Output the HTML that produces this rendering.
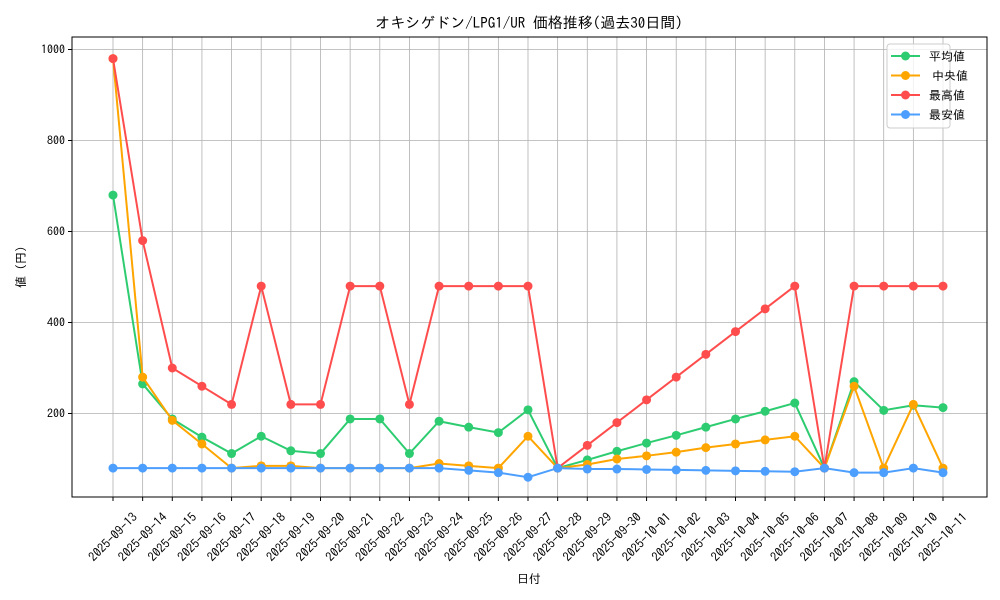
<!DOCTYPE html><html><head><meta charset="utf-8"><style>body{margin:0;background:#fff}svg{display:block}text{font-family:"IPAGothic","Liberation Sans","Noto Sans CJK JP",sans-serif;fill:#000}</style></head><body>
<svg id="s" width="1000" height="600" xmlns="http://www.w3.org/2000/svg"></svg>
<script>
const s=document.getElementById('s');let h='';
const L=72,R=987,T=37,B=497;
const X=i=>113+i*(830/28), Y=v=>504.5-v*0.455;
const dates=[];let d=new Date(Date.UTC(2025,8,13));for(let i=0;i<29;i++){dates.push(d.toISOString().slice(0,10));d=new Date(d.getTime()+864e5);}
h+=`<rect x="${L}" y="${T}" width="${R-L}" height="${B-T}" fill="#fff"/>`;
for(let i=0;i<29;i++){const x=X(i);h+=`<line x1="${x}" y1="${T}" x2="${x}" y2="${B}" stroke="#b0b0b0" stroke-width="0.8"/><line x1="${x}" y1="${B}" x2="${x}" y2="${B+4}" stroke="#000"/><text transform="translate(${x+3},540) rotate(-45)" text-anchor="middle" font-size="12.5">${dates[i]}</text>`;}
for(let v=200;v<=1000;v+=200){const y=Y(v);h+=`<line x1="${L}" y1="${y}" x2="${R}" y2="${y}" stroke="#b0b0b0" stroke-width="0.8"/><line x1="${L-4}" y1="${y}" x2="${L}" y2="${y}" stroke="#000"/><text x="${L-7}" y="${y+4}" text-anchor="end" font-size="12">${v}</text>`;}
const S=[
['#2ecc71',[680,265,188,148,112,150,118,112,188,188,112,183,170,158,208,80,98,117,135,152,170,188,205,223,80,270,207,218,213]],
['#ffa500',[980,280,185,133,80,85,85,80,80,80,80,90,85,80,150,80,88,100,107,115,125,133,142,150,80,260,80,220,80]],
['#ff4d4d',[980,580,300,260,220,480,220,220,480,480,220,480,480,480,480,80,130,180,230,280,330,380,430,480,80,480,480,480,480]],
['#4d9fff',[80,80,80,80,80,80,80,80,80,80,80,80,75,70,60,80,78,78,77,76,75,74,73,72,80,70,70,80,70]]];
for(const [c,a] of S){h+=`<polyline fill="none" stroke="${c}" stroke-width="2" points="${a.map((v,i)=>X(i)+','+Y(v)).join(' ')}"/>`;a.forEach((v,i)=>h+=`<circle cx="${X(i)}" cy="${Y(v)}" r="4.5" fill="${c}"/>`);}
h+=`<rect x="${L}" y="${T}" width="${R-L}" height="${B-T}" fill="none" stroke="#000" stroke-width="1"/>`;
h+=`<rect x="887" y="44" width="63" height="84" rx="3" fill="#fff" fill-opacity="0.8" stroke="#ccc"/>`;
const n=['平均値','中央値','最高値','最安値'];
S.forEach(([c],i)=>{const y=56+i*19.5;h+=`<line x1="891" y1="${y}" x2="920" y2="${y}" stroke="${c}" stroke-width="2"/><circle cx="905.5" cy="${y}" r="4.5" fill="${c}"/><text x="${i==1?932:929}" y="${y+4.5}" font-size="12">${n[i]}</text>`;});
h+=`<text x="529" y="28" text-anchor="middle" font-size="15">オキシゲドン/LPG1/UR 価格推移(過去30日間)</text>`;
h+=`<text x="529" y="583" text-anchor="middle" font-size="12">日付</text>`;
h+=`<text transform="translate(25,267) rotate(-90)" text-anchor="middle" font-size="12">値 (円)</text>`;
s.innerHTML=h;
</script></body></html>
